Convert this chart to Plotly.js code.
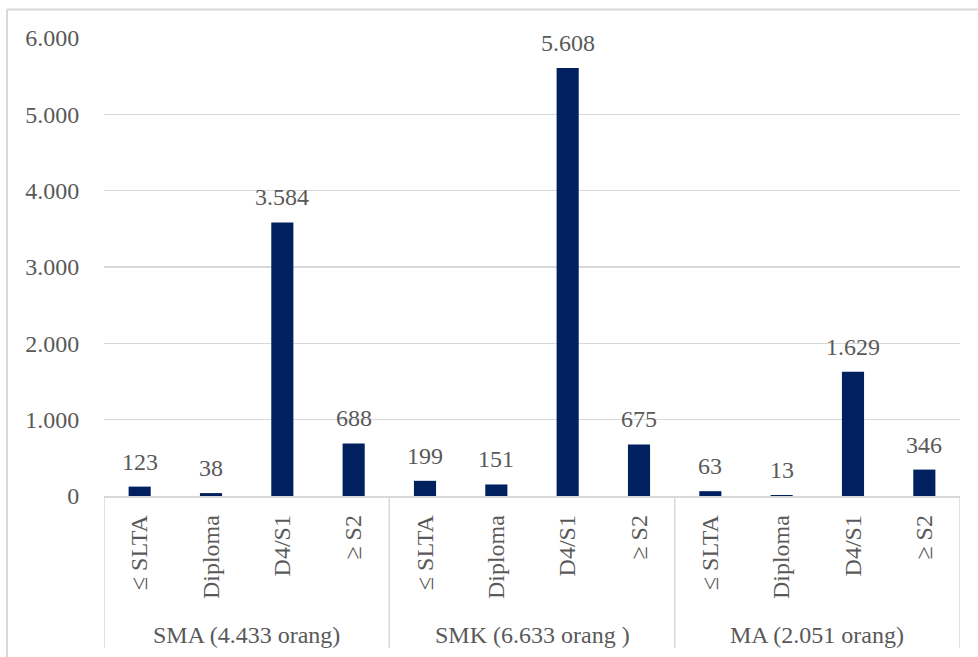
<!DOCTYPE html>
<html>
<head>
<meta charset="utf-8">
<script src="https://cdn.plot.ly/plotly-3.0.1.min.js"></script>
<style>html,body{margin:0;padding:0;background:#fff;}#chart{width:978px;height:657px;}</style>
</head>
<body>
<div id="chart"></div>
<script>
// ---- data ----
const groups = ['SMA (4.433 orang)', 'SMK (6.633 orang )', 'MA (2.051 orang)'];
const levels = ['≤ SLTA', 'Diploma', 'D4/S1', '≥ S2'];
const smaValues = [123, 38, 3584, 688];
const smkValues = [199, 151, 5608, 675];
const maValues = [63, 13, 1629, 346];
const yTicks = [0, 1000, 2000, 3000, 4000, 5000, 6000];

// ---- build ----
const seriesByGroup = [smaValues, smkValues, maValues];
const xs = [], ys = [], tickText = [];
seriesByGroup.forEach((vals, g) => {
  vals.forEach((v, i) => {
    xs.push(g * levels.length + i);
    ys.push(v);
    tickText.push(levels[i]);
  });
});

const FONT = 'Liberation Serif, DejaVu Serif, serif';
const TXT = '#595959';
const LINE = '#d9d9d9';

const fmt = v => v.toLocaleString('de-DE');

const annotations = xs.map((x, k) => ({
  x: x, y: ys[k], xref: 'x', yref: 'y',
  text: fmt(ys[k]), showarrow: false, yanchor: 'bottom', yshift: 10,
  font: {family: FONT, size: 24, color: TXT}
}));
groups.forEach((g, gi) => {
  annotations.push({
    x: gi * levels.length + (levels.length - 1) / 2, y: -0.3035,
    xref: 'x', yref: 'paper', text: g, showarrow: false,
    yanchor: 'middle', xanchor: 'center',
    font: {family: FONT, size: 24, color: TXT}
  });
});

const shapes = [];
for (let gi = 0; gi <= groups.length; gi++) {
  const bx = gi * levels.length - 0.5;
  shapes.push({type: 'line', xref: 'x', yref: 'paper', x0: bx, x1: bx, y0: 0, y1: -0.332,
    line: {color: LINE, width: 1.5}});
}
// outer chart border (left and top)
shapes.push({type: 'line', xref: 'paper', yref: 'paper', x0: -0.1133, x1: -0.1133, y0: 1.062, y1: -0.4,
  line: {color: LINE, width: 2}});
shapes.push({type: 'line', xref: 'paper', yref: 'paper', x0: -0.1133, x1: 1.1, y0: 1.062, y1: 1.062,
  line: {color: LINE, width: 2}});

const trace = {
  type: 'bar', x: xs, y: ys,
  marker: {color: '#002060'},
  hoverinfo: 'skip'
};

const layout = {
  width: 978, height: 657,
  margin: {l: 104, r: 18, t: 38, b: 161},
  paper_bgcolor: '#fff', plot_bgcolor: '#fff',
  separators: ',.',
  bargap: 0.69,
  showlegend: false,
  font: {family: FONT, color: TXT, size: 24},
  xaxis: {
    range: [-0.5, xs.length - 0.5],
    tickmode: 'array', tickvals: xs, ticktext: tickText,
    tickangle: -90, ticks: 'outside', ticklen: 8, tickcolor: 'rgba(0,0,0,0)',
    showgrid: false, zeroline: false,
    showline: true, linecolor: LINE, linewidth: 1.5,
    tickfont: {family: FONT, size: 24, color: TXT}
  },
  yaxis: {
    range: [0, 6000], tickmode: 'array', tickvals: yTicks, tickformat: ',',
    ticks: 'outside', ticklen: 19, tickcolor: 'rgba(0,0,0,0)',
    showgrid: true, gridcolor: LINE, gridwidth: 1.5, zeroline: false, showline: false,
    tickfont: {family: FONT, size: 24, color: TXT}
  },
  annotations: annotations,
  shapes: shapes
};

Plotly.newPlot('chart', [trace], layout, {displayModeBar: false, staticPlot: true});
</script>
</body>
</html>
